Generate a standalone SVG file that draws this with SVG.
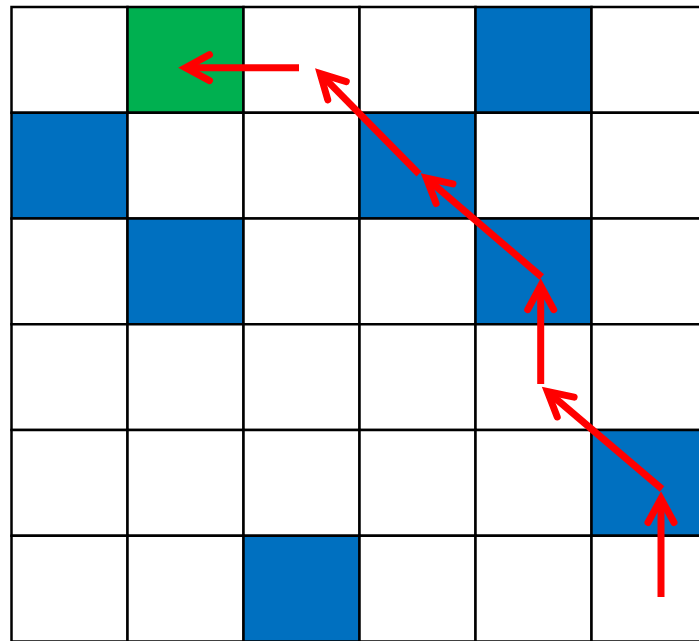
<svg xmlns="http://www.w3.org/2000/svg" width="699" height="641" viewBox="0 0 699 641">
<style>
.c{stroke:#000;stroke-width:2.5;fill:#fff}
.b{fill:#0070C0}
.g{fill:#00B050}
.a{stroke:#FF0000;stroke-width:7;fill:none;stroke-linecap:butt}
.h{stroke:#FF0000;stroke-width:7;fill:none;stroke-linecap:round;stroke-linejoin:miter;stroke-miterlimit:10}
</style>
<defs>
<marker id="arr" markerUnits="userSpaceOnUse" viewBox="-40 -25 50 50" refX="0" refY="0" markerWidth="50" markerHeight="50" orient="auto" overflow="visible">
<path class="h" d="M-24,-13 L0,0 L-24,13"/>
</marker>
</defs>
<rect width="699" height="641" fill="#fff"/>
<g id="grid">
<g id="r0c0"><rect class="c" x="11.5" y="7" width="116" height="105.75"/></g>
<g id="r0c1"><rect class="c g" x="127.5" y="7" width="116" height="105.75"/></g>
<g id="r0c2"><rect class="c" x="243.5" y="7" width="116" height="105.75"/></g>
<g id="r0c3"><rect class="c" x="359.5" y="7" width="116" height="105.75"/></g>
<g id="r0c4"><rect class="c b" x="475.5" y="7" width="116" height="105.75"/></g>
<g id="r0c5"><rect class="c" x="591.5" y="7" width="116" height="105.75"/></g>
<g id="r1c0"><rect class="c b" x="11.5" y="112.75" width="116" height="105.75"/></g>
<g id="r1c1"><rect class="c" x="127.5" y="112.75" width="116" height="105.75"/></g>
<g id="r1c2"><rect class="c" x="243.5" y="112.75" width="116" height="105.75"/></g>
<g id="r1c3"><rect class="c b" x="359.5" y="112.75" width="116" height="105.75"/></g>
<g id="r1c4"><rect class="c" x="475.5" y="112.75" width="116" height="105.75"/></g>
<g id="r1c5"><rect class="c" x="591.5" y="112.75" width="116" height="105.75"/></g>
<g id="r2c0"><rect class="c" x="11.5" y="218.5" width="116" height="105.75"/></g>
<g id="r2c1"><rect class="c b" x="127.5" y="218.5" width="116" height="105.75"/></g>
<g id="r2c2"><rect class="c" x="243.5" y="218.5" width="116" height="105.75"/></g>
<g id="r2c3"><rect class="c" x="359.5" y="218.5" width="116" height="105.75"/></g>
<g id="r2c4"><rect class="c b" x="475.5" y="218.5" width="116" height="105.75"/></g>
<g id="r2c5"><rect class="c" x="591.5" y="218.5" width="116" height="105.75"/></g>
<g id="r3c0"><rect class="c" x="11.5" y="324.25" width="116" height="105.75"/></g>
<g id="r3c1"><rect class="c" x="127.5" y="324.25" width="116" height="105.75"/></g>
<g id="r3c2"><rect class="c" x="243.5" y="324.25" width="116" height="105.75"/></g>
<g id="r3c3"><rect class="c" x="359.5" y="324.25" width="116" height="105.75"/></g>
<g id="r3c4"><rect class="c" x="475.5" y="324.25" width="116" height="105.75"/></g>
<g id="r3c5"><rect class="c" x="591.5" y="324.25" width="116" height="105.75"/></g>
<g id="r4c0"><rect class="c" x="11.5" y="430" width="116" height="105.75"/></g>
<g id="r4c1"><rect class="c" x="127.5" y="430" width="116" height="105.75"/></g>
<g id="r4c2"><rect class="c" x="243.5" y="430" width="116" height="105.75"/></g>
<g id="r4c3"><rect class="c" x="359.5" y="430" width="116" height="105.75"/></g>
<g id="r4c4"><rect class="c" x="475.5" y="430" width="116" height="105.75"/></g>
<g id="r4c5"><rect class="c b" x="591.5" y="430" width="116" height="105.75"/></g>
<g id="r5c0"><rect class="c" x="11.5" y="535.75" width="116" height="105.75"/></g>
<g id="r5c1"><rect class="c" x="127.5" y="535.75" width="116" height="105.75"/></g>
<g id="r5c2"><rect class="c b" x="243.5" y="535.75" width="116" height="105.75"/></g>
<g id="r5c3"><rect class="c" x="359.5" y="535.75" width="116" height="105.75"/></g>
<g id="r5c4"><rect class="c" x="475.5" y="535.75" width="116" height="105.75"/></g>
<g id="r5c5"><rect class="c" x="591.5" y="535.75" width="116" height="105.75"/></g>
</g>
<g id="connectors">
<line class="a" x1="661" y1="597" x2="661" y2="498.5" marker-end="url(#arr)"/>
<line class="a" x1="662" y1="489" x2="547.4" y2="391.5" marker-end="url(#arr)"/>
<line class="a" x1="540.7" y1="384" x2="540.7" y2="285.7" marker-end="url(#arr)"/>
<line class="a" x1="541.7" y1="277" x2="426.3" y2="178.1" marker-end="url(#arr)"/>
<line class="a" x1="419" y1="174" x2="320.2" y2="73.6" marker-end="url(#arr)"/>
<line class="a" x1="299" y1="67.7" x2="185.5" y2="67.7" marker-end="url(#arr)"/>
</g>
</svg>
